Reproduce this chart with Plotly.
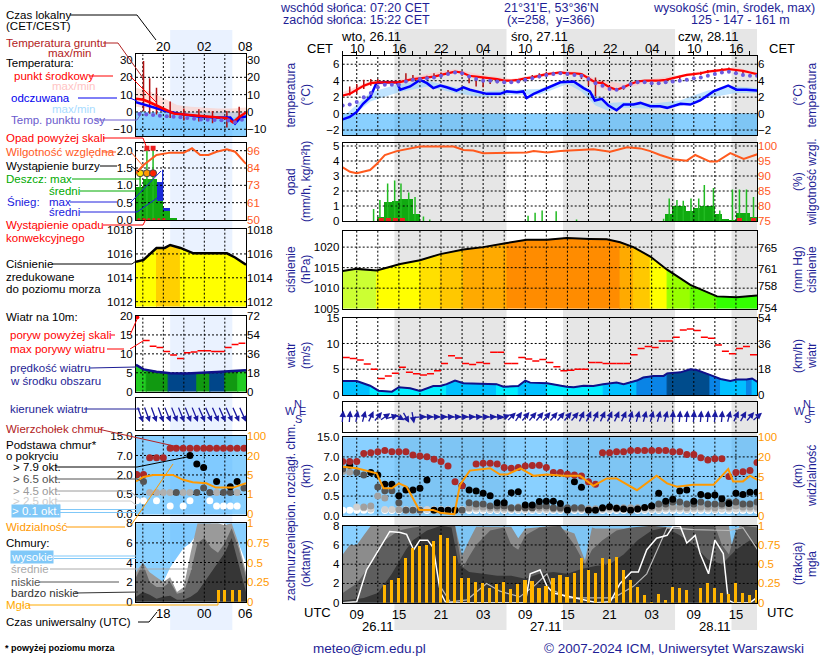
import numpy as np
import plotly.graph_objects as go

# ===================== DATA =====================
# main time axis: hours since 26.11 07:00 UTC
x_range = [0, 59]
utc_tick_h = [2, 8, 14, 20, 26, 32, 38, 44, 50, 56]
utc_labels = ["09", "15", "21", "03", "09", "15", "21", "03", "09", "15"]
cet_labels = ["10", "16", "22", "04", "10", "16", "22", "04", "10", "16"]
grid_h = [2, 5, 8, 11, 14, 17, 20, 23, 26, 29, 32, 35, 38, 41, 44, 47, 50, 53, 56]
date_h = [5, 29, 53]
date_labels = ["26.11", "27.11", "28.11"]
day_h = [4, 28, 52]
day_labels = ["wto, 26.11", "śro, 27.11", "czw, 28.11"]
night_start_h = [7.37, 31.37, 55.37]
night_end_h = [23.33, 47.33, 59.0]

hours = list(range(60))
temp_mid = [2.2, 2.4, 2.9, 3.4, 3.7, 3.8, 3.8, 3.8, 3.8, 4.0,
            4.2, 4.3, 4.4, 4.5, 4.7, 4.9, 5.1, 5.0, 4.6, 4.5,
            4.4, 4.3, 4.2, 4.0, 4.0, 4.1, 4.3, 4.4, 4.6, 4.8,
            4.9, 5.0, 4.9, 4.9, 4.8, 4.3, 3.8, 3.7, 3.2, 2.9,
            3.2, 3.6, 3.9, 4.0, 4.0, 4.0, 4.1, 4.3, 4.5, 4.7,
            4.8, 4.9, 5.1, 5.2, 5.3, 5.4, 5.3, 5.2, 5.0, 4.8]
tband_t = [0, 4, 8, 12, 16, 20, 24, 28, 32, 34, 36, 38, 40, 44, 48, 52, 56, 59]
temp_max = [2.6, 4.0, 4.1, 4.8, 5.4, 4.7, 4.2, 4.8, 5.2, 5.0, 4.2, 3.9, 3.6, 4.2, 4.7, 5.3, 5.6, 5.0]
temp_min = [2.0, 3.5, 3.6, 4.2, 5.0, 4.2, 3.9, 4.4, 4.8, 4.6, 3.4, 2.7, 3.0, 3.9, 4.4, 5.0, 5.2, 4.7]
dew_point = [1.0, 1.1, 1.4, 2.0, 2.5, 3.2, 3.5, 3.5, 3.5, 3.9,
             4.1, 4.2, 4.3, 4.4, 4.6, 4.8, 5.0, 4.9, 4.5, 4.2,
             4.0, 4.0, 3.9, 3.8, 3.8, 3.9, 4.1, 4.3, 4.5, 4.7,
             4.8, 4.9, 4.8, 4.7, 4.6, 4.2, 3.7, 3.4, 3.0, 2.9,
             3.2, 3.6, 3.8, 3.8, 3.7, 3.7, 3.8, 3.9, 4.0, 4.1,
             4.3, 4.4, 4.6, 4.8, 5.0, 5.1, 4.9, 4.7, 4.6, 4.6]
feel_t = [0, 1.0, 2.0, 2.9, 3.9, 4.8, 5.8, 7.7, 8.2, 9.6,
          11.0, 12.0, 12.9, 13.9, 14.8, 16.2, 17.2, 18.1, 20.5, 22.4,
          23.4, 24.8, 25.7, 26.2, 27.2, 30.0, 31.0, 32.9, 34.3, 35.2,
          35.9, 36.9, 37.8, 39.0, 40.0, 41.4, 42.4, 43.8, 45.2, 46.2,
          48.1, 49.5, 50.9, 52.8, 54.9, 56.1, 57.5, 59.1]
feel = [-0.7, -0.4, 0.2, 1.2, 2.0, 3.7, 3.8, 3.8, 2.9, 3.3,
        4.1, 3.7, 3.1, 3.4, 3.2, 2.8, 3.2, 2.9, 2.4, 2.4,
        2.7, 2.6, 2.7, 1.9, 2.4, 3.5, 3.8, 3.9, 3.1, 2.7,
        1.6, 1.8, 1.0, 0.4, 1.1, 1.1, 1.3, 0.9, 0.9, 0.7,
        1.2, 1.1, 1.6, 2.7, 3.4, 2.9, 2.9, 2.8]
fband_t = [0, 4, 8, 12, 16, 20, 24, 28, 32, 34, 36, 38, 40, 44, 48, 52, 56, 59]
feel_max = [-0.4, 2.6, 3.6, 4.0, 3.2, 2.7, 2.9, 3.0, 4.1, 3.6, 2.2, 1.3, 1.4, 1.2, 1.6, 2.8, 3.3, 3.1]
feel_min = [-1.2, 1.5, 2.6, 3.3, 2.5, 2.0, 2.3, 2.3, 3.6, 2.7, 1.0, 0.3, 0.7, 0.6, 0.9, 1.9, 2.5, 2.5]
ground_h = [1, 2, 3, 4, 5, 8, 9, 10, 12, 13, 14, 15, 17, 18, 19, 20, 21, 22,
            26, 27, 28, 29, 30, 31, 32, 34, 35, 36, 37, 40, 46, 48, 50, 51, 52, 53, 54, 55, 56, 57]
ground_max = [3.3, 3.6, 4.1, 4.2, 4.2, 4.0, 4.9, 4.7, 4.6, 4.9, 5.0, 5.3, 5.0, 4.6, 4.5, 4.4, 4.3, 4.2,
              4.4, 4.7, 4.9, 5.1, 5.1, 5.1, 5.0, 4.9, 4.5, 4.4, 4.0, 3.3, 4.2, 4.6, 5.0, 5.1, 5.3, 5.4, 5.5, 5.6, 5.4, 5.3]
ground_min = [2.2, 2.4, 3.0, 3.4, 3.6, 3.6, 3.8, 4.0, 4.1, 4.3, 4.5, 4.7, 4.6, 3.7, 3.3, 3.2, 3.6, 3.7,
              4.0, 4.1, 4.3, 4.5, 4.7, 4.8, 4.6, 4.2, 3.4, 2.1, 3.3, 2.9, 3.9, 4.2, 4.6, 4.7, 4.9, 5.0, 5.0, 5.0, 5.0, 4.8]

rain_mean_h = [5, 6, 7, 8, 9, 10, 46, 47, 48, 49, 50, 51, 52, 53, 54, 55, 56, 57, 58]
rain_mean = [0.3, 1.3, 1.35, 1.5, 1.5, 0.5, 0.5, 1.0, 1.0, 0.7, 0.9, 1.0, 1.0, 0.5, 0.15, 0.1, 0.55, 0.55, 0.3]
rain_max_h = [4.4, 5.3, 6.4, 7.4, 8.3, 9.4, 10.3, 11.5, 12.4, 26.4, 27.4, 28.4, 30.4, 33.3,
              45.7, 46.5, 47.6, 48.5, 49.6, 50.7, 51.5, 52.8, 53.7, 55.5, 56.5, 57.5, 58.5]
rain_max = [0.8, 1.4, 2.5, 2.7, 2.5, 1.9, 1.6, 0.3, 0.1, 0.35, 0.55, 0.7, 0.65, 0.1,
            0.15, 1.5, 1.4, 1.35, 1.5, 1.5, 2.4, 2.2, 0.7, 2.1, 2.1, 2.1, 1.6]
conv_h = [5.5, 6.5, 7.5, 8.5, 56.5, 58.5]
hum_t = [0, 1.04, 2.0, 3.9, 4.84, 6.0, 7.7, 9.6, 11.0, 13.9, 15.8, 17.2, 18.6, 20.0, 22.4, 24.3, 26.2,
         27.2, 29.1, 31.0, 33.3, 35.7, 38.1, 40.5, 42.4, 43.8, 45.2, 47.1, 49.0, 50.2, 52.3, 53.3, 55.2, 57.1, 59.1]
humidity = [92.9, 91.4, 90.9, 92.0, 94.0, 97.0, 98.3, 99.2, 99.8, 99.8, 99.8, 98.7, 98.5, 97.6, 97.6, 97.8, 97.8,
            98.3, 97.8, 98.3, 98.7, 98.9, 98.1, 99.6, 99.2, 98.3, 97.0, 95.6, 95.1, 97.0, 94.8, 94.8, 97.6, 95.7, 97.3]

pres_t = [0, 2.0, 4.84, 8.2, 11.0, 13.9, 17.2, 20.0, 23.4, 26.2, 29.1, 31.9, 35.2, 37.6, 39.5, 41.4,
          43.8, 46.2, 49.5, 53.3, 56.1, 59.0]
pressure = [1014.2, 1014.7, 1014.3, 1015.9, 1016.8, 1018.3, 1019.4, 1020.0, 1021.0, 1021.8, 1021.8, 1022.2,
            1022.0, 1021.9, 1021.2, 1020.0, 1017.7, 1014.5, 1010.8, 1008.0, 1007.8, 1008.2]

wind_t = [0, 2.0, 3.9, 5.1, 7.0, 8.0, 9.6, 11.0, 12.9, 13.9, 14.8, 16.0, 17.2, 20.0, 21.9, 22.9, 25.0,
          26.0, 26.7, 29.1, 31.9, 32.9, 34.3, 35.7, 37.1, 39.0, 40.0, 41.9, 42.8, 44.3, 45.7, 46.2, 48.1,
          49.5, 50.4, 52.3, 53.8, 55.2, 56.1, 57.5, 58.3, 59.1]
wind_speed = [2.7, 2.7, 1.8, 0.84, 0.65, 1.5, 1.3, 0.8, 1.75, 1.75, 2.1, 2.8, 2.3, 2.1, 2.1, 1.6, 1.75,
              2.8, 2.4, 2.3, 1.6, 1.5, 1.8, 1.75, 2.1, 2.4, 2.1, 2.8, 3.4, 3.7, 3.7, 4.2, 4.4,
              5.0, 4.85, 3.9, 3.1, 2.7, 3.0, 3.0, 3.2, 2.5]
gust = [7.3, 7.1, 6.8, 6.0, 5.0, 3.2, 3.7, 4.2, 5.4, 4.4, 4.1, 3.9, 4.1, 4.7, 6.1, 7.6, 7.2, 6.1, 5.9, 6.3,
        6.1, 8.3, 8.3, 6.1, 6.1, 7.3, 7.0, 6.6, 6.9, 6.3, 5.5, 4.7, 4.8, 5.0, 5.0, 6.3, 6.3, 6.1, 6.1, 6.1,
        6.1, 7.8, 9.0, 9.4, 9.2, 10.5, 10.5, 11.2, 12.6, 12.8, 12.5, 11.2, 11.0, 9.7, 8.5, 8.0, 9.0, 9.4, 7.8]
wind_dir = [185, 185, 190, 195, 205, 220, 235, 255, 300, 330, 350,
            265, 265, 265, 265, 265, 265, 265, 265, 265, 265, 265, 265,
            250, 225, 215, 220, 220, 220, 220, 220, 220, 220, 220,
            205, 205, 205, 205, 205, 205, 205, 195, 195, 195, 195, 195, 195,
            185, 185, 185, 185, 185, 185, 185, 185, 195, 205, 210, 220, 230]

# cloud base / top (km above sea level), hourly, None = none
cloud_top = [5.8, 5.8, 5.8, 8.4, 8.7, 9.1, 9.6, 9.1, 9.1, 9.1, 7.8, 7.4, 7.1, 6.4, 5.8, 4.7, 1.6, 1.3, None, 5.2,
             5.4, 5.4, 5.2, 4.3, 4.1, 4.3, 4.7, 4.8, 4.9, 4.3, 3.0, 3.0, 2.6, 2.4, 2.1, 1.6, 1.4, 8.7, 8.7, 9.1,
             9.1, 9.6, 9.6, 9.6, 9.6, 9.6, 9.6, 9.1, 9.1, 8.0, 8.0, 6.8, 6.2, 6.5, 6.5, 2.0, 3.0, 3.2, 3.5, 5.6]
base_79 = [None, 4.9, None, None, 3.0, 2.4, 1.4, 1.4, 0.53, 0.97, 0.97, 1.1, 1.73, 0.14, 0.14, 0.14, 0.14, 1.3, 0.97, 0.89,
           0.71, 0.53, 0.33, 0.33, 0.76, 0.84, 0.27, 0.27, 0.36, 0.37, 0.37, 0.31, 0.14, 1.6, 1.17, 0.14, 0.14, 0.2, 0.23, 0.19,
           0.17, 0.14, 0.17, 0.21, 0.25, 0.71, 0.37, 0.42, 0.89, 0.97, 0.37, 0.63, 0.53, 0.58, 0.43, 0.31, 0.71, 0.63, 0.79, 0.79]
base_65 = [3.9, None, 3.0, 2.4, None, 1.2, 0.9, 0.9, 0.33, 0.14, 0.14, 0.14, None, None, None, None, None, 0.14, 0.33, 0.3,
           0.3, 0.25, 0.25, 0.25, 0.2, 0.2, 0.2, 0.2, 0.25, 0.25, 0.2, 0.2, 0.2, 0.2, 0.2, None, None, None, None, None,
           None, None, None, None, 0.25, 0.3, 0.3, 0.35, 0.35, 0.3, 0.3, 0.35, 0.3, 0.3, 0.3, 0.35, 0.35, 0.3, 0.3, 0.35]
base_45 = [3.3, 3.1, None, 0.22, 0.25, 0.5, 0.45, None, 0.15, None, None, None, None, None, None, None, 0.14, None, 0.2, 0.22,
           0.22, 0.2, 0.2, 0.2, 0.18, 0.22, 0.2, 0.2, 0.2, 0.2, 0.18, 0.18, 0.18, 0.18, 0.18, 0.18, 0.18, 0.18, 0.2, 0.2,
           0.2, 0.2, 0.2, 0.2, 0.2, 0.2, 0.22, 0.22, 0.22, 0.2, 0.22, 0.22, 0.22, 0.2, 0.25, 0.22, 0.25, 0.22, 0.22, 0.22]
base_25 = [None, None, 0.22, 0.2, 0.17, None, 0.16, 0.16, 0.16, 0.16, 0.16, 0.16, 0.16, 0.16, 0.16, 0.16, None, 0.16, 0.17, 0.17,
           0.17, 0.16, 0.16, 0.16, 0.16, 0.16, 0.16, 0.16, 0.16, 0.16, 0.16, 0.16, 0.16, 0.16, 0.16, 0.16, 0.16, 0.16, 0.16, 0.16,
           0.16, 0.16, 0.16, 0.16, 0.16, 0.16, 0.17, 0.17, 0.17, 0.16, 0.17, 0.17, 0.17, 0.16, 0.17, 0.17, 0.17, 0.17, 0.17, 0.17]
base_01 = [0.14, 0.14, 0.14, 0.14, 0.14, None, 0.13, 0.13, 0.13, 0.13, 0.13, 0.13, 0.13, 0.13, 0.13, 0.13, 0.13, 0.13, 0.13, 0.13,
           0.13, 0.13, 0.13, 0.13, 0.13, 0.13, 0.13, 0.13, 0.13, 0.13, 0.13, 0.13, 0.13, 0.13, 0.13, 0.13, 0.13, 0.13, 0.13, 0.13,
           0.13, 0.13, 0.13, 0.13, 0.13, 0.13, 0.13, 0.13, 0.13, 0.13, 0.13, 0.13, 0.13, 0.13, 0.13, 0.13, 0.13, 0.13, 0.13, 0.13]
cb_tick_km = [0, 0.5, 2, 7, 15]
cb_labels = ["0.0", "0.5", "2.0", "7.0", "15.0"]
vis_tick_km = [0, 1, 5, 20, 100]
vis_labels = ["0", "1", "5", "20", "100"]
vis_t = [0, 2.0, 4.84, 5.8, 7.0, 8.0, 9.1, 10.9, 12.9, 13.9, 15.9, 16.7, 18.1, 21.0, 22.4, 23.4, 25.3, 27.2,
         29.1, 31.4, 33.8, 35.7, 37.6, 39.0, 41.9, 44.7, 46.2, 47.6, 49.9, 52.8, 54.9, 55.6, 57.0, 58.0, 59.1]
visibility = [12.5, 11.3, 7.4, 2.6, 2.6, 3.6, 2.9, 0.29, 0.29, 0.15, 0.07, 3.3, 9.5, 11.3, 6.5, 6.5, 11.3, 5.5,
              6.5, 5.6, 5.5, 3.1, 4.6, 4.6, 2.2, 5.6, 3.6, 2.9, 3.3, 3.3, 10.7, 4.0, 4.0, 5.6, 4.3]

# cloud cover (octants)
cc_mid_t = [0, 1, 2, 3, 4, 16, 17, 18, 19, 24, 25, 26, 30, 33, 34.5, 35.5, 36, 47, 48, 55, 55.5, 56.5, 59]
cc_mid = [5.0, 6.0, 6.0, 7.0, 8.0, 8.0, 4.9, 6.5, 7.9, 7.9, 6.7, 7.7, 8.0, 7.2, 4.4, 7.8, 7.7, 7.7, 8.0, 8.0, 5.6, 8.0, 8.0]
cc_low_t = [0, 2, 4, 6, 8, 10, 12, 16, 17, 18, 19, 21, 23, 24, 25, 26, 28, 31, 33, 34.5, 35.5, 37, 39, 41, 44, 47,
            48, 53, 54, 55, 56, 57, 59]
cc_low = [1.0, 2.0, 4.0, 6.5, 7.5, 7.8, 8.0, 8.0, 3.5, 4.8, 6.0, 7.5, 7.8, 6.0, 5.5, 7.0, 7.8, 8.0, 6.0, 4.0, 5.5, 6.5,
          7.5, 7.8, 8.0, 7.8, 8.0, 8.0, 6.0, 5.0, 7.5, 8.0, 7.8]
cc_vlow_t = [0, 3, 5, 7, 9, 10, 12, 14, 15.5, 16.5, 18, 20, 22, 24, 26, 28, 30, 32, 34, 36, 38, 40, 42, 44, 46, 48,
             50, 52, 54, 56, 58, 59]
cc_vlow = [0.2, 0.5, 1.0, 3.0, 5.5, 6.5, 7.5, 8.0, 7.8, 4.0, 3.2, 3.0, 2.8, 2.8, 2.5, 3.0, 3.2, 3.0, 3.5, 3.8, 4.0, 5.0,
           6.5, 7.5, 7.8, 7.0, 6.0, 4.5, 4.0, 5.5, 6.5, 6.0]
cc_high_t = [0, 2, 3.4, 4.8, 6.7, 8.2, 9.1, 10.1, 11.0, 12.1, 12.9, 13.9, 14.6, 15, 26, 26.7, 28.1, 29.1, 30, 36.2,
             38.1, 39.5, 41.1, 42.1, 43.3, 44.7, 46.2, 47.1, 48.1, 49, 50.2, 50.9, 52.1, 53.0, 54.2, 54.9, 55.6, 58, 59.1]
cc_high = [0, 0.1, 3.4, 5.1, 7.4, 7.3, 7.1, 5.5, 6.5, 6.5, 5.7, 1.1, 0.1, 0, 0, 3.0, 3.4, 1.7, 1.0, 0,
           0.1, 2.0, 3.2, 3.2, 5.5, 6.7, 7.0, 8.0, 7.9, 6.2, 7.0, 5.1, 3.0, 6.5, 5.1, 0.3, 0, 0, 0.6]
cc_line2_t = [13.9, 15.3, 17.7, 20.5, 22.4, 25.2, 27.2, 29.1, 30, 32, 38.6, 41.4, 43.3, 46.2, 50, 55, 57, 59.1]
cc_line2 = [1.7, 0.1, 0.3, 2.0, 1.2, 0.6, 1.7, 3.0, 1.3, 0.5, 0.5, 1.7, 3.0, 7.8, 7.6, 7.5, 7.8, 5.5]
fog_h = list(range(6, 60))
fog = [0.23, 0.29, 0.32, 0.58, 0.71, 0.73, 0.75, 0.8, 0.88, 0.84, 0.61, 0.32, 0.32, 0.27, 0.25, 0.19, 0.24, 0.27,
       0.18, 0.24, 0.29, 0.28, 0.19, 0.22, 0.32, 0.36, 0.34, 0.39, 0.58, 0.43, 0.38, 0.58, 0.57, 0.59, 0.42, 0.29,
       0.21, 0.1, 0.01, 0.11, 0.03, 0.21, 0.19, 0.16, 0.0, 0.19, 0.26, 0.19, 0.13, 0.11, 0.25, 0.13, 0.1, 0.16]

# ----- legend (mini) meteogram, hours UTC -----
m_range = [14.0, 30.1]
m_grid_h = [15, 18, 21, 24, 27]
m_bot_h = [18, 24, 30]
m_bot_labels = ["18", "00", "06"]
m_top_labels = ["20", "02", "08"]
m_night = [19.0, 28.1]
m_temp_t = [14.0, 15.1, 16.0, 17.0, 18.5, 19.5, 21.4, 23.4, 25.3, 27.3, 28.2, 29.0, 30.1]
m_temp = [7.6, 7.0, 5.6, 3.65, 0.7, -0.9, -1.6, -2.2, -2.8, -3.6, -6.1, -3.2, -0.3]
m_band_t = [14, 16, 18, 20, 22, 24, 26, 28, 30.1]
m_tmax = [14, 12, 8, 4, 3, 2.5, 2, 2, 2.5]
m_tmin = [3, 2, 0, -1.5, -2, -2.5, -3, -3.5, -1]
m_feel_t = [14.0, 16.0, 18.5, 20.5, 23.4, 25.8, 27.8, 28.5, 29.3, 30.1]
m_feel = [5.6, 3.1, 0.4, -1.2, -2.8, -3.2, -3.2, -6.7, -3.2, -2.6]
m_dew_t = [14.5, 15.5, 16.5, 17.5, 18.5, 19.5, 20.5, 21.5, 22.5, 23.5, 24.5, 25.5, 26.5, 27.5, 28.5, 29.5]
m_dew = [-1.2, -1.5, -1.8, -2.2, -2.5, -2.8, -3.0, -3.5, -4.0, -4.3, -4.5, -4.6, -4.8, -5.0, -6.0, -4.5]
m_ground_t = [15.1, 16.0, 17.0, 19.0, 21.0, 23.2, 25.2, 27.3, 29.1]
m_gmax = [29.5, 19.5, 14.0, 6.0, 2.0, 1.5, 0.5, 0.5, 3.0]
m_gmin = [0.5, -1.0, -1.5, -3.5, -5.0, -5.5, -6.5, -9.0, -3.5]
m_hum_t = [14.0, 15.1, 17.0, 19.0, 21.0, 22.2, 23.4, 24.6, 25.8, 27.3, 28.5, 30.1]
m_hum = [81.0, 86.5, 93.1, 94.7, 94.7, 97.6, 93.1, 93.1, 95.3, 96.9, 95.3, 87.2]
m_rain_t = [14.5, 15.5, 16.5, 17.5, 18.5, 19.5]
m_rain = [0.96, 1.17, 1.17, 0.55, 0.25, 0.05]
m_snow_t = [17.5, 18.5]
m_snow = [1.1, 0.35]
m_rmax_t = [14.6, 15.6, 16.5]
m_rmax = [1.35, 2.1, 2.1]
m_storm_t = [14.6, 15.6, 16.5]
m_storm_col = ["#ffdd00", "#ff9900", "#ff2200"]
m_pres_t = [14.0, 15.1, 17.0, 18.2, 19.0, 20.5, 22.4, 25.3, 27.3, 28.5, 30.1]
m_pres = [1015.35, 1015.5, 1016.5, 1016.5, 1016.75, 1016.5, 1016.05, 1016.05, 1016.05, 1015.7, 1015.1]
m_wind_t = [14.0, 15.1, 17.0, 19.0, 21.4, 23.4, 25.8, 28.2, 30.1]
m_wind = [7.1, 5.9, 5.3, 4.9, 4.8, 4.9, 5.2, 5.5, 5.7]
m_wcls_edges = [14.0, 15.5, 18.7, 22.9, 24.8, 27.0, 28.9, 30.1]
m_wcls = [0, 1, 2, 1, 2, 1, 0]
m_gust_t = [15, 16, 17, 18, 19, 20, 21, 22, 23, 24, 25, 26, 27, 28, 29]
m_gust = [13.5, 12.0, 11.7, 10.6, 9.7, 8.8, 10.3, 10.5, 10.8, 10.8, 10.6, 10.6, 11.7, 12.5, 12.8]
m_dir_t = [14.6, 15.6, 16.6, 17.6, 18.6, 19.6, 20.6, 21.6, 22.6, 23.6, 24.6, 25.6, 26.6, 27.6, 28.6, 29.6]
m_dir = [340, 340, 340, 340, 338, 338, 338, 338, 338, 336, 336, 336, 336, 336, 336, 336]
m_cb_t = [14.1, 15.1, 16.0, 17.0, 18.0, 19.0, 19.9, 20.9, 21.9, 22.9, 23.9, 24.8, 25.8, 26.8, 27.8, 28.8, 29.8]
m_top = [2.1, 2.1, 6.4, 6.4, 6.4, 10, 10, 10, 10, 10, 10, 10, 10, 10, 10, 10, 10]
m_b79 = [None, None, None, None, None, None, None, None, 7.0, 4.8, 3.9, None, 1.5, None, 1.1, 1.5, None]
m_b65 = [2.0, 1.5, None, None, None, None, 0.64, None, None, 0.64, 1.0, 0.64, None, 0.64, 0.64, None, 1.0]
m_b45 = [None, None, 0.64, 0.64, 0.64, 0.64, None, 0.64, 0.64, None, None, None, 0.64, None, None, 0.64, None]
m_b01 = [0.34, 0.34, None, 0.34, None, 0.2, None, 0.2, 0.34, None, None, 0.34, 0.2, 0.2, 0.2, 0.2, None]
m_vis_t = [14.0, 15.1, 16.5, 19.4, 20.9, 22.3, 24.3, 25.7, 28.2, 30.1]
m_vis = [3.7, 4.6, 5.0, 5.0, 4.0, 3.5, 3.3, 2.4, 2.4, 3.3]
m_cc_t = [14, 15, 16, 17, 18, 19, 20, 21, 22, 23, 24, 25, 26, 27, 28, 29, 30.1]
m_cc_high = [0, 0, 0, 0, 2.0, 3.5, 4.5, 5.5, 6.0, 7.0, 7.5, 8.0, 8.0, 8.0, 7.5, 6.0, 4.0]
m_cc_mid = [3.0, 4.0, 3.0, 2.5, 2.0, 2.5, 1.0, 1.5, 5.0, 8.0, 8.0, 8.0, 8.0, 7.8, 8.0, 6.0, 3.0]
m_cc_low = [2.5, 3.9, 2.0, 1.5, 1.5, 2.0, 0.8, 1.0, 3.0, 6.0, 6.5, 5.5, 5.0, 6.0, 7.5, 5.5, 2.5]
m_cc_vlow = [0.5, 1.0, 0.7, 0.3, 0.5, 0.6, 0.2, 0.2, 0.5, 1.0, 2.0, 3.0, 4.0, 5.0, 6.5, 4.0, 1.0]
m_fog_t = [26.05, 27.0, 28.1, 29.1]
m_fog = [0.15, 0.15, 0.15, 0.15]

# ===================== STYLE / HELPERS =====================
W, H = 820, 660
FONT = "Liberation Sans, Arial, sans-serif"
NAVY = "#1e1e96"
ORANGE = "#ff9900"
HUMC = "#ff5a1e"
GRIDL = dict(color="black", width=1, dash="2px,2px")
BLUE_TINT = "rgba(40,170,255,0.55)"
TICK = 11.5


def px(v):
    return v / W


def py(v):
    return 1 - v / H


def xn(n):
    return "x" if n == 1 else f"x{n}"


def yn(n):
    return "y" if n == 1 else f"y{n}"


def xk(n):
    return "xaxis" if n == 1 else f"xaxis{n}"


def yk(n):
    return "yaxis" if n == 1 else f"yaxis{n}"


fig = go.Figure()
lay = {}
shapes = []
annos = []


def panel(n, xd, yd, xr, yr, tickvals=None, ticktext=None, size=TICK):
    lay[xk(n)] = dict(domain=[px(xd[0]), px(xd[1])], range=xr, anchor=yn(n), showgrid=False,
                      zeroline=False, showticklabels=False, ticks="", showline=True, mirror=True,
                      linecolor="black", linewidth=1, fixedrange=True, automargin=False)
    lay[yk(n)] = dict(domain=[py(yd[1]), py(yd[0])], range=yr, anchor=xn(n), showgrid=False,
                      zeroline=False, ticks="", showline=True, mirror=True, linecolor="black",
                      linewidth=1, tickvals=tickvals, ticktext=ticktext,
                      showticklabels=tickvals is not None, automargin=False,
                      tickfont=dict(family=FONT, size=size, color="black"), fixedrange=True)


def right_axis(m, n, xr, yr, tickvals, ticktext=None, color="black", size=TICK):
    lay[yk(m)] = dict(overlaying=yn(n), side="right", anchor=xn(n), range=yr, tickvals=tickvals,
                      ticktext=ticktext, showgrid=False, zeroline=False, showline=False, ticks="",
                      automargin=False,
                      tickfont=dict(family=FONT, size=size, color=color), fixedrange=True)
    fig.add_trace(go.Scatter(x=[xr[0]], y=[yr[0]], mode="markers", marker=dict(opacity=0),
                             xaxis=xn(n), yaxis=yn(m), hoverinfo="skip"))


def grid(n, xr, yr, xv, yv):
    xs, ys = [], []
    for v in xv:
        xs += [v, v, None]
        ys += [yr[0], yr[1], None]
    for v in yv:
        xs += [xr[0], xr[1], None]
        ys += [v, v, None]
    fig.add_trace(go.Scatter(x=xs, y=ys, mode="lines", line=GRIDL, xaxis=xn(n), yaxis=yn(n),
                             hoverinfo="skip"))


def line(n, x, y, color, width, ya=None, dash=None, shape="linear"):
    fig.add_trace(go.Scatter(x=x, y=y, mode="lines", line=dict(color=color, width=width, dash=dash, shape=shape),
                             xaxis=xn(n), yaxis=yn(ya or n), hoverinfo="skip", connectgaps=False))


def dots(n, x, y, color, size=7, symbol="circle", ya=None):
    fig.add_trace(go.Scatter(x=x, y=y, mode="markers", marker=dict(color=color, size=size, symbol=symbol,
                                                                   line=dict(width=0)),
                             xaxis=xn(n), yaxis=yn(ya or n), hoverinfo="skip"))


def vbars(n, x, lo, hi, color, width):
    xs, ys = [], []
    for a, b, c in zip(x, lo, hi):
        xs += [a, a, None]
        ys += [b, c, None]
    line(n, xs, ys, color, width)


def steps(n, t, v, color, width):
    xs, ys = [], []
    for a, b in zip(t, v):
        xs += [a, a + 1, None]
        ys += [b, b, None]
    line(n, xs, ys, color, width)


def area(n, x, y, color, base=0, ya=None):
    fig.add_trace(go.Scatter(x=[x[0]] + list(x) + [x[-1]], y=[base] + list(y) + [base], mode="lines",
                             fill="toself", fillcolor=color, line=dict(width=0),
                             xaxis=xn(n), yaxis=yn(ya or n), hoverinfo="skip"))


def band(n, x, lo, hi, color):
    fig.add_trace(go.Scatter(x=list(x) + list(x)[::-1], y=list(hi) + list(lo)[::-1], mode="lines",
                             fill="toself", fillcolor=color, line=dict(width=0),
                             xaxis=xn(n), yaxis=yn(n), hoverinfo="skip"))


def binned_area(n, t, v, base, edges, cols):
    segs = []
    for i in range(len(t) - 1):
        c = cols[int(np.searchsorted(edges, (v[i] + v[i + 1]) / 2))]
        if segs and segs[-1][0] == c:
            segs[-1][1].append(i + 1)
        else:
            segs.append([c, [i, i + 1]])
    for c, idx in segs:
        xs = [t[j] for j in idx]
        ys = [v[j] for j in idx]
        fig.add_trace(go.Scatter(x=[xs[0]] + xs + [xs[-1]], y=[base] + ys + [base], mode="lines",
                                 fill="toself", fillcolor=c, line=dict(color=c, width=1),
                                 xaxis=xn(n), yaxis=yn(n), hoverinfo="skip"))


def class_area(n, t, v, edges, cls, cols):
    for k in range(len(cls)):
        a, b = edges[k], edges[k + 1]
        inner = [(tt, vv) for tt, vv in zip(t, v) if a < tt < b]
        xs = [a] + [p[0] for p in inner] + [b]
        ys = [float(np.interp(a, t, v))] + [p[1] for p in inner] + [float(np.interp(b, t, v))]
        c = cols[cls[k]]
        fig.add_trace(go.Scatter(x=[a] + xs + [b], y=[0] + ys + [0], mode="lines", fill="toself",
                                 fillcolor=c, line=dict(color=c, width=1), xaxis=xn(n), yaxis=yn(n),
                                 hoverinfo="skip"))


def arrows(n, t_list, from_deg, L, sx, sy, color, width=1.3, size=0.9):
    for t, d in zip(t_list, from_deg):
        th = np.deg2rad(d + 180)
        dx = 0.5 * L * np.sin(th) / sx
        dy = 0.5 * L * np.cos(th) / sy
        annos.append(dict(x=t + dx, y=dy, ax=t - dx, ay=-dy, xref=xn(n), yref=yn(n), axref=xn(n),
                          ayref=yn(n), showarrow=True, arrowhead=2, arrowsize=size, arrowwidth=width,
                          arrowcolor=color, text=""))


def text(s, x, y, color="black", size=11, xanchor="left", bg=None, angle=0, xref="paper"):
    annos.append(dict(text=s, x=(x if xref != "paper" else px(x)), y=py(y), xref=xref, yref="paper",
                      xanchor=xanchor, yanchor="middle", showarrow=False, textangle=angle,
                      font=dict(family=FONT, size=size, color=color), bgcolor=bg, borderpad=0))


def leader(xs, ys, color, width=1):
    d = "M " + " L ".join(f"{px(a)} {py(b)}" for a, b in zip(xs, ys))
    shapes.append(dict(type="path", path=d, xref="paper", yref="paper", line=dict(color=color, width=width),
                       layer="above"))


def cb_level(km):
    return [None if k is None else float(np.interp(k, cb_tick_km, [0, 1, 2, 3, 4])) for k in km]


def vis_level(km):
    return [float(np.interp(k, vis_tick_km, [0, 1, 2, 3, 4])) for k in km]


# ===================== BACKGROUND BANDS =====================
for a, b in zip(night_start_h, night_end_h):
    shapes.append(dict(type="rect", xref="x", yref="paper", x0=a, x1=b, y0=py(630), y1=py(29),
                       fillcolor="#e6e6e6", line=dict(width=0), layer="below"))

# ===================== MAIN PANELS =====================
MX = [342.7, 757]
SX = (MX[1] - MX[0]) / (x_range[1] - x_range[0])

# 1: temperature
r1 = [-2.6, 7.0]
panel(1, MX, (56, 135), x_range, r1, [-2, 0, 2, 4, 6])
right_axis(21, 1, x_range, r1, [-2, 0, 2, 4, 6])
shapes.append(dict(type="rect", xref="x domain", yref="y", x0=0, x1=1, y0=r1[0], y1=0,
                   fillcolor=BLUE_TINT, line=dict(width=0), layer="below"))
band(1, fband_t, feel_min, feel_max, "rgba(140,205,255,0.55)")
band(1, tband_t, temp_min, temp_max, "rgba(255,190,190,0.5)")
grid(1, x_range, r1, grid_h, [-2, 0, 2, 4, 6])
vbars(1, ground_h, ground_min, ground_max, "#b01010", 1.5)
line(1, feel_t, feel, "#0000ff", 2.5)
line(1, hours, temp_mid, "#ff0000", 2.2)
dots(1, hours, dew_point, "#6a5ae0", size=4)
# top tick marks
lay["xaxis21"] = dict(overlaying="x", side="top", anchor="y", range=x_range, tickvals=list(range(0, 60, 2)),
                      ticks="outside", ticklen=4, tickcolor="black", showticklabels=False, showgrid=False,
                      zeroline=False, showline=False, fixedrange=True, automargin=False)
fig.add_trace(go.Scatter(x=[0], y=[0], mode="markers", marker=dict(opacity=0), xaxis="x21", yaxis="y",
                         hoverinfo="skip"))

# 2: precipitation / humidity
r2 = [0, 5.18]
panel(2, MX, (143.3, 221), x_range, r2, [0, 1, 2, 3, 4, 5])
r2h = [75, 75 + 5 * r2[1]]
right_axis(22, 2, x_range, r2h, [75, 80, 85, 90, 95, 100], color=HUMC)
grid(2, x_range, r2, grid_h, [1, 2, 3, 4, 5])
fig.add_trace(go.Bar(x=[h + 0.45 for h in rain_mean_h], y=rain_mean, width=1.0, marker=dict(color="#11aa11", line=dict(width=0)),
                     xaxis="x2", yaxis="y2", hoverinfo="skip"))
vbars(2, rain_max_h, [0] * len(rain_max_h), rain_max, "#22bb22", 1.5)
dots(2, conv_h, [0.04] * len(conv_h), "#ee2020", size=5, symbol="square")
line(2, hum_t, humidity, HUMC, 2, ya=22)

# 3: pressure
r3 = [1005, 1024]
panel(3, MX, (230.7, 308.7), x_range, r3, [1005, 1010, 1015, 1020])
HPA2MM = 0.750062
right_axis(23, 3, x_range, [r3[0] * HPA2MM, r3[1] * HPA2MM], [754, 758, 761, 765])
binned_area(3, pres_t, pressure, r3[0],
            [1009.0, 1011.5, 1013.5, 1014.5, 1016.45, 1018.0, 1019.5, 1020.65],
            ["#33ff00", "#66ff00", "#99ff00", "#ccff33", "#ffff00", "#ffe000", "#ffc800", "#ffaa00", "#ff8c00"])
grid(3, x_range, r3, grid_h, [1010, 1015, 1020])
line(3, pres_t, pressure, "black", 2)

# 4: wind
r4 = [0, 15]
panel(4, MX, (317.7, 395), x_range, r4, [0, 5, 10, 15])
right_axis(24, 4, x_range, [0, 54], [0, 18, 36, 54])
binned_area(4, wind_t, wind_speed, 0, [2.0, 3.0, 3.95], ["#00eeff", "#00c0ff", "#0a84e6", "#004c8c"])
grid(4, x_range, r4, grid_h, [5, 10])
steps(4, hours[:len(gust)], gust, "#ff0000", 1.5)
line(4, wind_t, wind_speed, "#10108a", 2)

# 5: wind direction
r5 = [-1, 1]
panel(5, MX, (402.3, 431.7), x_range, r5)
grid(5, x_range, r5, grid_h, [])
arrows(5, hours, wind_dir, 13, SX, (431.7 - 402.3) / 2, "#1a1aa0", width=1.3, size=1.0)

# 6: cloud base / visibility
r6 = [0, 4]
panel(6, MX, (437.3, 515.7), x_range, r6, [0, 1, 2, 3, 4], cb_labels)
right_axis(26, 6, x_range, r6, [0, 1, 2, 3, 4], vis_labels, color=ORANGE)
shapes.append(dict(type="rect", xref="x6 domain", yref="y6 domain", x0=0, x1=1, y0=0, y1=1,
                   fillcolor=BLUE_TINT, line=dict(width=0), layer="below"))
grid(6, x_range, r6, grid_h, [1, 2, 3])
dots(6, hours, cb_level(base_01), "#ffffff")
dots(6, hours, cb_level(base_25), "#d0d0d0")
dots(6, hours, cb_level(base_45), "#a0a0a0")
dots(6, hours, cb_level(base_65), "#555555")
dots(6, hours, cb_level(base_79), "#000000")
dots(6, hours, cb_level(cloud_top), "#aa2a2a")
line(6, vis_t, vis_level(visibility), ORANGE, 2)

# 7: cloud cover / fog
r7 = [0, 8]
panel(7, MX, (525.7, 602.7), x_range, r7, [0, 2, 4, 6, 8])
lay["xaxis7"].update(showticklabels=True, tickvals=utc_tick_h, ticktext=utc_labels,
                     tickfont=dict(family=FONT, size=13, color="black"))
right_axis(27, 7, x_range, [0, 1], [0, 0.25, 0.5, 0.75, 1], ["0", "0.25", "0.5", "0.75", "1"], color=ORANGE)
shapes.append(dict(type="rect", xref="x7 domain", yref="y7 domain", x0=0, x1=1, y0=0, y1=1,
                   fillcolor=BLUE_TINT, line=dict(width=0), layer="below"))
area(7, cc_mid_t, cc_mid, "#8c8c8c")
area(7, cc_low_t, cc_low, "#5e5e5e")
area(7, cc_vlow_t, cc_vlow, "#363636")
grid(7, x_range, r7, grid_h, [2, 4, 6])
line(7, cc_line2_t, cc_line2, "#b8b8b8", 1.2)
line(7, cc_high_t, cc_high, "#ffffff", 1.5)
fig.add_trace(go.Bar(x=[h - 0.05 for h in fog_h], y=fog, width=0.45, marker=dict(color="#ffb400", line=dict(width=0)),
                     xaxis="x7", yaxis="y27", hoverinfo="skip"))

# ===================== MINI LEGEND METEOGRAM =====================
MM = [136, 246]
MSX = (MM[1] - MM[0]) / (m_range[1] - m_range[0])
shapes.append(dict(type="rect", xref="x8", yref="paper", x0=m_night[0], x1=m_night[1], y0=py(630), y1=py(30),
                   fillcolor="#eaf2ff", line=dict(width=0), layer="below"))

# 8 temperature
rm8 = [-13.9, 33.3]
panel(8, MM, (54.3, 136), m_range, rm8, [-10, 0, 10, 20, 30])
right_axis(28, 8, m_range, rm8, [-10, 0, 10, 20, 30])
shapes.append(dict(type="rect", xref="x8 domain", yref="y8", x0=0, x1=1, y0=rm8[0], y1=0,
                   fillcolor=BLUE_TINT, line=dict(width=0), layer="below"))
band(8, m_band_t, m_tmin, m_tmax, "rgba(255,200,190,0.55)")
grid(8, m_range, rm8, m_grid_h, [-10, 0, 10, 20])
vbars(8, m_ground_t, m_gmin, m_gmax, "#b01010", 1.5)
line(8, m_feel_t, m_feel, "#0000ff", 2.5)
line(8, m_temp_t, m_temp, "#ff0000", 2.5)
dots(8, m_dew_t, m_dew, "#6a5ae0", size=4)

# 9 precipitation
rm9 = [0, 2.213]
panel(9, MM, (143.3, 220), m_range, rm9, [0, 0.5, 1, 1.5, 2], ["0.0", "0.5", "1.0", "1.5", "2.0"])
right_axis(29, 9, m_range, [50, 50 + 23 * rm9[1]], [50, 61.5, 73, 84.5, 96], ["50", "61", "73", "84", "96"], color=HUMC)
grid(9, m_range, rm9, m_grid_h, [0.5, 1, 1.5, 2])
fig.add_trace(go.Bar(x=m_snow_t, y=m_snow, width=1.0, marker=dict(color="#1a2ad8", line=dict(width=0)),
                     xaxis="x9", yaxis="y9", hoverinfo="skip"))
fig.add_trace(go.Bar(x=m_rain_t, y=m_rain, width=1.0, marker=dict(color="#11aa11", line=dict(width=0)),
                     xaxis="x9", yaxis="y9", hoverinfo="skip"))
vbars(9, m_rmax_t, [0] * 3, m_rmax, "#22bb22", 1.5)
vbars(9, [17.9], [0.55], [1.45], "#1a2ad8", 1.2)
dots(9, m_rmax_t[1:], [2.07, 2.07], "#ee2020", size=5, symbol="square")
fig.add_trace(go.Scatter(x=m_storm_t, y=[1.35] * 3, mode="markers",
                         marker=dict(color=m_storm_col, size=7, line=dict(color="#444444", width=1)),
                         xaxis="x9", yaxis="y9", hoverinfo="skip"))
line(9, [14.2, 18.6], [0.02, 0.02], "#ee2020", 2, dash="3px,2px")
line(9, m_hum_t, m_hum, HUMC, 2, ya=29)

# 10 pressure
rm10 = [1011.58, 1018.13]
panel(10, MM, (228.5, 306.7), m_range, rm10, [1012, 1014, 1016, 1018])
right_axis(30, 10, m_range, rm10, [1012, 1014, 1016, 1018])
binned_area(10, m_pres_t, m_pres, rm10[0], [1016.45], ["#ffff00", "#ffd000"])
grid(10, m_range, rm10, m_grid_h, [1012, 1014, 1016])
line(10, m_pres_t, m_pres, "black", 2.5)

# 11 wind
rm11 = [0, 20.08]
panel(11, MM, (315.7, 391.7), m_range, rm11, [0, 5, 10, 15, 20])
right_axis(31, 11, m_range, [0, 72.3], [0, 18, 36, 54, 72])
class_area(11, m_wind_t, m_wind, m_wcls_edges, m_wcls, ["#22cc22", "#119911", "#00468a"])
grid(11, m_range, rm11, m_grid_h, [5, 10, 15])
steps(11, m_gust_t, m_gust, "#ff0000", 1.5)
dots(11, [14.2], [19.7], "#ff0000", size=4)
line(11, m_wind_t, m_wind, "#10108a", 2.5)

# 12 direction
panel(12, MM, (398, 430), m_range, [-1, 1])
grid(12, m_range, [-1, 1], m_grid_h, [])
arrows(12, m_dir_t, m_dir, 17, MSX, 16, "#1a1aa0")

# 13 cloud base
rm13 = [-0.03, 4]
panel(13, MM, (436, 514.5), m_range, rm13, [0, 1, 2, 3, 4], cb_labels)
right_axis(33, 13, m_range, rm13, [0, 1, 2, 3, 4], vis_labels, color=ORANGE)
shapes.append(dict(type="rect", xref="x13 domain", yref="y13 domain", x0=0, x1=1, y0=0, y1=1,
                   fillcolor=BLUE_TINT, line=dict(width=0), layer="below"))
grid(13, m_range, rm13, m_grid_h, [1, 2, 3])
dots(13, m_cb_t, cb_level(m_b01), "#ffffff")
dots(13, m_cb_t, cb_level(m_b45), "#b0b0b0")
dots(13, m_cb_t, cb_level(m_b65), "#555555")
dots(13, m_cb_t, cb_level(m_b79), "#000000")
dots(13, m_cb_t, cb_level(m_top), "#aa2a2a")
line(13, m_vis_t, vis_level(m_vis), ORANGE, 2)

# 14 cloud cover
panel(14, MM, (523.3, 601.7), m_range, [0, 8], [0, 2, 4, 6, 8])
lay["xaxis14"].update(showticklabels=True, tickvals=m_bot_h, ticktext=m_bot_labels,
                      tickfont=dict(family=FONT, size=13, color="black"))
right_axis(34, 14, m_range, [0, 1], [0, 0.25, 0.5, 0.75, 1], ["0", "0.25", "0.5", "0.75", "1"], color=ORANGE)
shapes.append(dict(type="rect", xref="x14 domain", yref="y14 domain", x0=0, x1=1, y0=0, y1=1,
                   fillcolor=BLUE_TINT, line=dict(width=0), layer="below"))
area(14, m_cc_t, m_cc_high, "#ffffff")
area(14, m_cc_t, m_cc_mid, "#9a9a9a")
area(14, m_cc_t, m_cc_low, "#666666")
area(14, m_cc_t, m_cc_vlow, "#363636")
grid(14, m_range, [0, 8], m_grid_h, [2, 4, 6])
fig.add_trace(go.Bar(x=m_fog_t, y=m_fog, width=0.45, marker=dict(color="#ffb400", line=dict(width=0)),
                     xaxis="x14", yaxis="y34", hoverinfo="skip"))

# ===================== TEXTS =====================
text("wschód słońca: 07:20 CET", 355, 8, NAVY, 12.5, "center")
text("zachód słońca: 15:22 CET", 356, 20, NAVY, 12.5, "center")
text("21°31'E, 53°36'N", 551, 8, NAVY, 12.5, "center")
text("(x=258,  y=366)", 551, 20, NAVY, 12.5, "center")
text("wysokość (min, środek, max)", 816, 8, NAVY, 12.5, "right")
text("125 - 147 - 161 m", 740, 20, NAVY, 12.5, "center")
for h, s in zip(day_h, day_labels):
    text(s, h, 37, "black", 13, "center", xref="x")
for h, s in zip(utc_tick_h, cet_labels):
    text(s, h, 49, "black", 13, "center", xref="x")
text("CET", 320, 49, "black", 13, "center")
text("CET", 782, 49, "black", 13, "center")
text("UTC", 317, 612, "black", 13, "center")
text("UTC", 780, 612, "black", 13, "center")
for h, s in zip(date_h, date_labels):
    text(s, h, 626, "black", 13, "center", xref="x")
for h, s in zip(m_bot_h, m_top_labels):
    text(s, h, 47, "black", 13, "center", xref="x8")

# axis titles
left_titles = [("temperatura", "(°C)", 95.5), ("opad", "(mm/h, kg/m²h)", 182), ("ciśnienie", "(hPa)", 270),
               ("wiatr", "(m/s)", 356), ("pion. rozciągł. chm.", "(km)", 476), ("zachmurzenie", "(oktanty)", 564)]
for a, b, yc in left_titles:
    text(a, 291, yc, NAVY, 12, "center", angle=-90)
    text(b, 306, yc, NAVY, 12, "center", angle=-90)
right_titles = [("(°C)", "temperatura", 95.5), ("(%)", "wilgotność wzgl.", 182), ("(mm Hg)", "ciśnienie", 270),
                ("(km/h)", "wiatr", 356), ("(km)", "widzialność", 476), ("(frakcja)", "mgła", 564)]
for a, b, yc in right_titles:
    text(a, 798, yc, NAVY, 12, "center", angle=-90)
    text(b, 812, yc, NAVY, 12, "center", angle=-90)
for cx in (296, 805):
    text("N", cx + 2, 404, NAVY, 11, "center")
    text("W", cx - 6, 411, NAVY, 11, "center")
    text("E", cx + 6, 411, NAVY, 11, "center")
    text("S", cx + 2, 419, NAVY, 11, "center")

text("meteo@icm.edu.pl", 369, 648, NAVY, 13.5, "center")
text("© 2007-2024 ICM, Uniwersytet Warszawski", 805, 648, NAVY, 13.5, "right")

# legend labels
RED = "#ff0000"
DRED = "#b22222"
GREEN = "#00aa00"
SBLUE = "#2020dd"
legend_items = [
    ("Czas lokalny", 5, 15, "black"), ("(CET/CEST)", 5, 26, "black"),
    ("Temperatura gruntu", 5, 43, DRED), ("max/min", 47, 53, DRED),
    ("Temperatura:", 5, 63, "black"),
    ("punkt środkowy", 13, 76, RED), ("max/min", 51, 86, "#ffc4c4"),
    ("odczuwana", 10, 98, "#0000ee"), ("max/min", 51, 109, "#a8dcff"),
    ("Temp. punktu rosy", 10, 120, "#6a5acd"),
    ("Opad powyżej skali", 5, 138, RED),
    ("Wilgotność względna", 5, 152, HUMC),
    ("Wystąpienie burzy", 5, 166, "black"),
    ("Deszcz: max", 5, 179, GREEN), ("średni", 48, 191, GREEN),
    ("Śnieg:", 6, 202, SBLUE), ("max", 48, 202, SBLUE), ("średni", 48, 212, SBLUE),
    ("Wystąpienie opadu", 5, 225, RED), ("konwekcyjnego", 5, 238, RED),
    ("Ciśnienie", 5, 264, "black"), ("zredukowane", 5, 277, "black"), ("do poziomu morza", 5, 289, "black"),
    ("Wiatr na 10m:", 5, 317, "black"),
    ("poryw powyżej skali", 9, 335, RED), ("max porywy wiatru", 9, 349, RED),
    ("prędkość wiatru", 9, 368, NAVY), ("w środku obszaru", 9, 381, NAVY),
    ("kierunek wiatru", 9, 409, NAVY),
    ("Wierzchołek chmur", 5, 429, DRED),
    ("Podstawa chmur*", 5, 445, "black"), ("o pokryciu", 5, 456, "black"),
    ("> 7.9 okt.", 12, 467, "black"), ("> 6.5 okt.", 12, 479, "#505050"),
    ("> 4.5 okt.", 12, 491, "#9a9a9a"), ("> 2.5 okt.", 12, 501, "#cccccc"),
    ("Widzialność", 5, 527, ORANGE),
    ("Chmury:", 5, 543, "black"),
    ("średnie", 10, 569, "#aaaaaa"), ("niskie", 10, 582, "#555555"), ("bardzo niskie", 10, 593, "#333333"),
    ("Mgła", 5, 605, "#ffaa00"),
    ("Czas uniwersalny (UTC)", 5, 622, "black"),
]
for s, x, y, c in legend_items:
    text(s, x, y, c, 11.5)
text("> 0.1 okt.", 11, 511, "white", 11.5, bg="#80c8f8")
text("wysokie", 10, 557, "white", 11.5, bg="#80c8f8")
text("<b>*</b> <b>powyżej poziomu morza</b>", 4, 648, "black", 9)

# leader lines
leaders = [
    ([70, 137, 156], [15, 15, 40], "black"),
    ([103, 118, 143], [43, 43, 78], DRED),
    ([90, 113], [76, 76], RED), ([130, 157], [76, 103], RED),
    ([78, 117], [98, 98], "#0000ee"), ([130, 137], [98, 101], "#0000ee"),
    ([95, 137, 141], [120, 120, 114], "#6a5acd"),
    ([103, 143, 146], [138, 138, 146], RED),
    ([103, 116], [152, 152], HUMC), ([131, 143], [152, 166], HUMC),
    ([100, 117], [166, 166], "black"), ([131, 139], [166, 172], "black"),
    ([72, 140], [179, 179], GREEN),
    ([80, 137], [191, 191], GREEN),
    ([70, 117], [202, 202], SBLUE), ([131, 161], [202, 171], SBLUE),
    ([80, 137, 160], [212, 212, 196], SBLUE),
    ([103, 143, 146], [225, 225, 219], RED),
    ([52, 132, 136], [264, 264, 261], "black"),
    ([111, 115], [335, 335], RED), ([130, 138], [335, 317], RED),
    ([107, 124], [349, 349], RED), ([130, 143], [349, 341], RED),
    ([90, 136], [368, 367], NAVY),
    ([84, 140], [409, 409], NAVY),
    ([98, 183], [429, 448], DRED),
    ([56, 137, 192], [467, 467, 456], "black"),
    ([56, 137, 143], [479, 479, 482], "#505050"),
    ([56, 130, 138], [491, 491, 498], "#9a9a9a"),
    ([56, 131, 137], [501, 501, 506], "#cccccc"),
    ([56, 137], [509.5, 509.5], "#80c8f8"), ([56, 137], [512.5, 512.5], "#80c8f8"),
    ([66, 125], [527, 527], ORANGE), ([131, 136, 173], [525, 518, 464], ORANGE),
    ([54, 137], [556, 556], "#80c8f8"), ([54, 137], [558.5, 558.5], "#80c8f8"),
    ([50, 192], [569, 569], "#aaaaaa"),
    ([40, 119], [582, 582], "#555555"),
    ([75, 138], [593, 592], "#333333"),
    ([28, 218, 218], [605, 605, 593], "#ffaa00"),
    ([138, 149, 157], [622, 622, 612], "black"),
]
for xs, ys, c in leaders:
    leader(xs, ys, c)

lay.update(dict(width=W, height=H, margin=dict(l=0, r=0, t=0, b=0, autoexpand=False), paper_bgcolor="white",
                plot_bgcolor="rgba(0,0,0,0)", showlegend=False, barmode="overlay", bargap=0,
                font=dict(family=FONT, size=12, color="black"), shapes=shapes, annotations=annos,
                hovermode=False))
fig.update_layout(**lay)
fig.write_html("out.html", config={"displayModeBar": False, "staticPlot": True},
               post_script="document.documentElement.style.margin='0';document.body.style.margin='0';"
                           "document.documentElement.style.overflow='hidden';document.body.style.overflow='hidden';")
